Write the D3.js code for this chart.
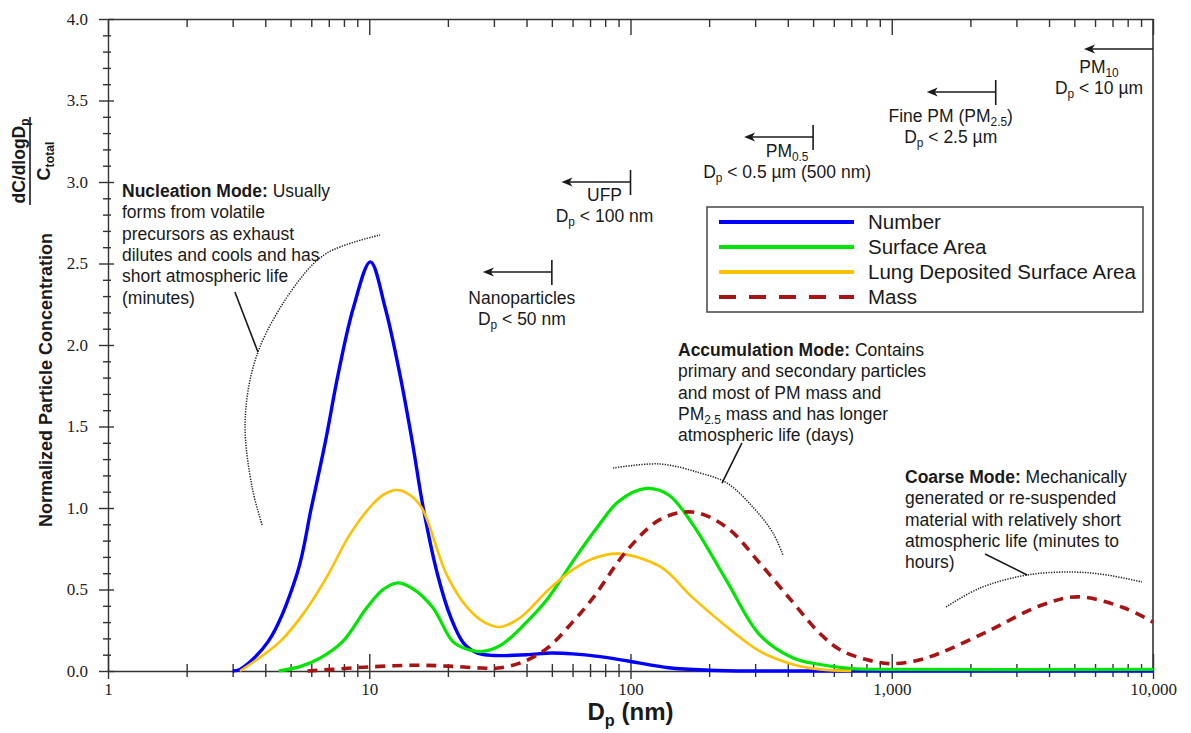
<!DOCTYPE html>
<html>
<head>
<meta charset="utf-8">
<script src="https://cdn.jsdelivr.net/npm/d3@7"></script>
<style>
  body { margin: 0; background: #fff; }
  svg text { font-family: "Liberation Sans", Arial, Helvetica, sans-serif; fill: #1a1a1a; }
  .axis .tick text { font-family: "Liberation Serif", "Times New Roman", serif; font-size: 17px; fill: #222; }
  .axis path, .axis line { stroke: #333; stroke-width: 1.4; }
</style>
</head>
<body>
<svg id="chart"></svg>
<script>
// ---- data (Dp in nm, normalized concentration) ----
const numberDp  = [3, 3.2, 4.1, 5.3, 6.0, 6.8, 7.6, 8.7, 10.1, 11.5, 13.1, 14.6, 16.1, 18.2, 20.5, 23, 26, 30, 40, 50, 60, 75, 99, 140, 200, 300, 1000, 10000];
const numberVal = [0, 0.01, 0.18, 0.6, 1.0, 1.41, 1.82, 2.23, 2.51, 2.23, 1.82, 1.41, 1.0, 0.6, 0.33, 0.17, 0.11, 0.095, 0.1, 0.11, 0.105, 0.09, 0.06, 0.02, 0.005, 0, 0, 0];

const surfaceDp  = [4.5, 5.5, 6.5, 7.9, 9.8, 11.3, 12.8, 14.5, 17.5, 20.9, 24, 27.2, 32, 40, 48, 60, 74.5, 90, 115, 140, 173, 234, 313, 419, 531, 700, 900, 10000];
const surfaceVal = [0, 0.03, 0.08, 0.18, 0.39, 0.5, 0.54, 0.51, 0.39, 0.18, 0.13, 0.12, 0.16, 0.3, 0.44, 0.67, 0.88, 1.04, 1.12, 1.08, 0.9, 0.55, 0.22, 0.08, 0.04, 0.015, 0.01, 0.01];

const ldsaDp  = [3.2, 4.55, 5.7, 6.95, 8.3, 10, 11.3, 12.8, 14.3, 15.9, 19.8, 23.7, 27.5, 31.7, 38, 47.9, 60, 72, 89.6, 130, 173, 234, 313, 419, 531, 700];
const ldsaVal = [0, 0.18, 0.37, 0.59, 0.82, 1.0, 1.08, 1.11, 1.08, 1.0, 0.59, 0.39, 0.3, 0.27, 0.33, 0.49, 0.62, 0.69, 0.72, 0.64, 0.45, 0.27, 0.12, 0.04, 0.01, 0];

const massDp  = [5.8, 8, 10, 14.7, 20, 27, 31, 38, 48, 60, 72, 97, 130, 173, 234, 313, 419, 531, 634, 800, 984, 1250, 1530, 2377, 3692, 5118, 7677, 10000];
const massVal = [0, 0.015, 0.025, 0.035, 0.03, 0.018, 0.018, 0.05, 0.14, 0.3, 0.45, 0.74, 0.93, 0.975, 0.88, 0.66, 0.42, 0.23, 0.13, 0.07, 0.045, 0.065, 0.11, 0.25, 0.40, 0.455, 0.39, 0.30];

const seriesNames = ["Number", "Surface Area", "Lung Deposited Surface Area", "Mass"];

const xTicks = [1, 10, 100, 1000, 10000];
const xTickLabels = ["1", "10", "100", "1,000", "10,000"];
const xMinorMult = [2, 3, 4, 5, 6, 7, 8, 9];
const yTicks = [0, 0.5, 1.0, 1.5, 2.0, 2.5, 3.0, 3.5, 4.0];
const yMinor = [0.1, 0.2, 0.3, 0.4, 0.6, 0.7, 0.8, 0.9, 1.1, 1.2, 1.3, 1.4, 1.6, 1.7, 1.8, 1.9, 2.1, 2.2, 2.3, 2.4, 2.6, 2.7, 2.8, 2.9, 3.1, 3.2, 3.3, 3.4, 3.6, 3.7, 3.8, 3.9];

// size cut-offs shown as arrows (nm) and the height they sit at
const cutoffDp  = [10000, 2500, 500, 100, 50];
const cutoffLvl = [3.816, 3.552, 3.276, 3.0, 2.448];

// mode brackets (dotted arcs) and their leader lines, in data units
const nucArcDp = [3.89, 3.56, 3.35, 3.75, 5.29, 6.89, 11.0];
const nucArcV  = [0.896, 1.129, 1.54, 1.957, 2.38, 2.564, 2.675];
const accArcDp = [85.7, 129.7, 184.5, 234, 294, 351, 383];
const accArcV  = [1.245, 1.27, 1.215, 1.153, 1.006, 0.847, 0.712];
const coaArcDp = [1614, 2178, 3296, 4943, 6668, 9075];
const coaArcV  = [0.393, 0.509, 0.589, 0.607, 0.589, 0.546];
const leaderDp = [[3.06, 3.75], [267, 224], [2275, 3296]];
const leaderV  = [[2.325, 1.957], [1.399, 1.153], [0.718, 0.589]];

// ---- layout ----
const width = 1191, height = 733;
const plot = { left: 108, right: 1153, top: 19, bottom: 671 };

const svg = d3.select("#chart").attr("width", width).attr("height", height);

const x = d3.scaleLog().domain([1, 10000]).range([plot.left, plot.right]);
const y = d3.scaleLinear().domain([0, 4]).range([plot.bottom, plot.top]);

const xMinor = xTicks.slice(0, 4).flatMap(d => xMinorMult.map(m => m * d));

// rich text: segments are strings or [string, "b" | "sub"]
const richText = (g, tx, ty, lines, size, lh, anchor, bold) => {
  lines.forEach((segs, i) => {
    const t = g.append("text")
      .attr("x", tx).attr("y", ty + i * lh)
      .attr("text-anchor", anchor || "start")
      .style("font-size", size + "px")
      .style("font-weight", bold ? "bold" : null);
    let shifted = false;
    segs.forEach(s => {
      const [str, kind] = typeof s === "string" ? [s, ""] : s;
      const ts = t.append("tspan").text(str);
      if (kind === "b") ts.style("font-weight", "bold");
      if (kind === "sub") {
        ts.style("font-size", (size * 0.68) + "px");
        if (!shifted) { ts.attr("dy", size * 0.24); shifted = true; }
      } else if (shifted) {
        ts.attr("dy", -size * 0.24); shifted = false;
      }
    });
  });
};

// ---- axes ----
const drawAxes = () => {
  // bottom: labels + ticks crossing the line
  svg.append("g").attr("class", "axis")
    .attr("transform", `translate(0,${plot.bottom})`)
    .call(d3.axisBottom(x).tickValues(xTicks).tickSize(8).tickSizeOuter(0).tickPadding(4)
      .tickFormat((d, i) => xTickLabels[i]));
  svg.append("g").attr("class", "axis")
    .attr("transform", `translate(0,${plot.bottom})`)
    .call(d3.axisTop(x).tickValues(xTicks).tickSize(17).tickFormat(""))
    .call(g => g.select(".domain").remove());
  svg.append("g").attr("class", "axis")
    .attr("transform", `translate(0,${plot.bottom})`)
    .call(d3.axisBottom(x).tickValues(xMinor).tickSize(6).tickFormat(""))
    .call(g => g.select(".domain").remove());
  svg.append("g").attr("class", "axis")
    .attr("transform", `translate(0,${plot.bottom})`)
    .call(d3.axisTop(x).tickValues(xMinor).tickSize(7).tickFormat(""))
    .call(g => g.select(".domain").remove());

  // top: inward ticks
  svg.append("g").attr("class", "axis")
    .attr("transform", `translate(0,${plot.top})`)
    .call(d3.axisBottom(x).tickValues(xTicks).tickSize(16).tickSizeOuter(0).tickFormat(""));
  svg.append("g").attr("class", "axis")
    .attr("transform", `translate(0,${plot.top})`)
    .call(d3.axisBottom(x).tickValues(xMinor).tickSize(8).tickFormat(""))
    .call(g => g.select(".domain").remove());

  // left: labels + crossing ticks
  svg.append("g").attr("class", "axis")
    .attr("transform", `translate(${plot.left},0)`)
    .call(d3.axisLeft(y).tickValues(yTicks).tickSize(9).tickSizeOuter(0).tickPadding(11)
      .tickFormat(d3.format(".1f")));
  svg.append("g").attr("class", "axis")
    .attr("transform", `translate(${plot.left},0)`)
    .call(d3.axisRight(y).tickValues(yTicks).tickSize(6).tickFormat(""))
    .call(g => g.select(".domain").remove());
  svg.append("g").attr("class", "axis")
    .attr("transform", `translate(${plot.left},0)`)
    .call(d3.axisLeft(y).tickValues(yMinor).tickSize(5).tickFormat(""))
    .call(g => g.select(".domain").remove());
  svg.append("g").attr("class", "axis")
    .attr("transform", `translate(${plot.left},0)`)
    .call(d3.axisRight(y).tickValues(yMinor).tickSize(3).tickFormat(""))
    .call(g => g.select(".domain").remove());

  // right frame
  svg.append("line")
    .attr("x1", plot.right).attr("x2", plot.right)
    .attr("y1", plot.top).attr("y2", plot.bottom)
    .attr("stroke", "#333").attr("stroke-width", 1.6);

  // x title
  richText(svg, x(100), 720, [["D", ["p", "sub"], " (nm)"]], 24, 0, "middle", true);

  // y title (rotated)
  const yt = svg.append("g").attr("transform", "translate(52,380) rotate(-90)");
  yt.append("text").attr("text-anchor", "middle")
    .style("font-size", "18px").style("font-weight", "bold")
    .text("Normalized Particle Concentration");

  const fr = svg.append("g").attr("transform", "translate(0,161) rotate(-90)");
  richText(fr, 0, 25, [["dC/dlogD", ["p", "sub"]]], 17.5, 0, "middle", true);
  fr.append("line").attr("x1", -44).attr("x2", 44).attr("y1", 30).attr("y2", 30)
    .attr("stroke", "#1a1a1a").attr("stroke-width", 1.6);
  richText(fr, 0, 50, [["C", ["total", "sub"]]], 18, 0, "middle", true);
};

// ---- curves ----
const drawCurves = () => {
  const series = [
    { dp: numberDp, val: numberVal, color: "#0000ff", w: 3.4, dash: null },
    { dp: surfaceDp, val: surfaceVal, color: "#00e600", w: 3.2, dash: null },
    { dp: ldsaDp, val: ldsaVal, color: "#ffc000", w: 2.6, dash: null },
    { dp: massDp, val: massVal, color: "#a81414", w: 3.6, dash: "10,7" },
  ];
  const line = d3.line()
    .x(d => x(d[0]))
    .y(d => y(Math.max(0, d[1])))
    .curve(d3.curveCatmullRom.alpha(0.5));

  svg.append("clipPath").attr("id", "clip").append("rect")
    .attr("x", plot.left).attr("y", plot.top)
    .attr("width", plot.right - plot.left).attr("height", plot.bottom - plot.top + 2);

  const g = svg.append("g").attr("clip-path", "url(#clip)");
  series.forEach(s => {
    g.append("path")
      .datum(s.dp.map((d, i) => [d, s.val[i]]))
      .attr("d", line)
      .attr("fill", "none")
      .attr("stroke", s.color)
      .attr("stroke-width", s.w)
      .attr("stroke-dasharray", s.dash)
      .attr("stroke-linejoin", "round");
  });
  return series;
};

// ---- legend ----
const drawLegend = (series) => {
  const lg = svg.append("g").attr("transform", "translate(707,207)");
  lg.append("rect").attr("width", 436).attr("height", 105)
    .attr("fill", "#fff").attr("stroke", "#444").attr("stroke-width", 1.5);
  series.forEach((s, i) => {
    const yy = 15 + i * 25;
    lg.append("line").attr("x1", 12).attr("x2", 147).attr("y1", yy).attr("y2", yy)
      .attr("stroke", s.color).attr("stroke-width", 4)
      .attr("stroke-dasharray", s.dash ? "17,13" : null);
    lg.append("text").attr("x", 161).attr("y", yy).attr("dy", "0.36em")
      .style("font-size", "20.5px").text(seriesNames[i]);
  });
};

// ---- size cut-off arrows ----
const drawCutoffs = () => {
  const labels = [
    { dx: -54, dy: [24, 45], lines: [["PM", ["10", "sub"]], ["D", ["p", "sub"], " < 10 µm"]], bar: false },
    { dx: -45, dy: [30, 51], lines: [["Fine PM (PM", ["2.5", "sub"], ")"], ["D", ["p", "sub"], " < 2.5 µm"]], bar: true },
    { dx: -26, dy: [20, 41], lines: [["PM", ["0.5", "sub"]], ["D", ["p", "sub"], " < 0.5 µm (500 nm)"]], bar: true },
    { dx: -26, dy: [19, 40], lines: [["UFP"], ["D", ["p", "sub"], " < 100 nm"]], bar: true },
    { dx: -30, dy: [32, 53], lines: [["Nanoparticles"], ["D", ["p", "sub"], " < 50 nm"]], bar: true },
  ];
  cutoffDp.forEach((dp, i) => {
    const cx = x(dp), cy = y(cutoffLvl[i]);
    const tip = cx - 69;
    const g = svg.append("g");
    g.append("line").attr("x1", cx).attr("x2", tip + 6).attr("y1", cy).attr("y2", cy)
      .attr("stroke", "#1a1a1a").attr("stroke-width", 1.6);
    g.append("path")
      .attr("d", `M${tip},${cy} L${tip + 11},${cy - 4.5} L${tip + 8},${cy} L${tip + 11},${cy + 4.5} Z`)
      .attr("fill", "#1a1a1a");
    if (labels[i].bar) {
      g.append("line").attr("x1", cx).attr("x2", cx).attr("y1", cy - 12).attr("y2", cy + 13)
        .attr("stroke", "#1a1a1a").attr("stroke-width", 1.6);
    }
    labels[i].lines.forEach((ln, j) => {
      richText(g, cx + labels[i].dx, cy + labels[i].dy[j], [ln], 17.5, 0, "middle");
    });
  });
};

// ---- mode notes ----
const drawModes = () => {
  const arc = d3.line().x(d => x(d[0])).y(d => y(d[1])).curve(d3.curveCatmullRom);
  [[nucArcDp, nucArcV], [accArcDp, accArcV], [coaArcDp, coaArcV]].forEach(([dps, vs]) => {
    svg.append("path")
      .datum(dps.map((d, i) => [d, vs[i]]))
      .attr("d", arc)
      .attr("fill", "none").attr("stroke", "#222")
      .attr("stroke-width", 1.5).attr("stroke-dasharray", "1.3,1.3");
  });
  leaderDp.forEach((dps, i) => {
    svg.append("line")
      .attr("x1", x(dps[0])).attr("y1", y(leaderV[i][0]))
      .attr("x2", x(dps[1])).attr("y2", y(leaderV[i][1]))
      .attr("stroke", "#1a1a1a").attr("stroke-width", 1.6);
  });

  richText(svg, 122, 197, [
    [["Nucleation Mode:", "b"], " Usually"],
    ["forms from volatile"],
    ["precursors as exhaust"],
    ["dilutes and cools and has"],
    ["short atmospheric life"],
    ["(minutes)"],
  ], 17.5, 21.3);

  richText(svg, 678, 356, [
    [["Accumulation Mode:", "b"], " Contains"],
    ["primary and secondary particles"],
    ["and most of PM mass and"],
    ["PM", ["2.5", "sub"], " mass and has longer"],
    ["atmospheric life (days)"],
  ], 17.5, 21.3);

  richText(svg, 905, 483, [
    [["Coarse Mode:", "b"], " Mechanically"],
    ["generated or re-suspended"],
    ["material with relatively short"],
    ["atmospheric life (minutes to"],
    ["hours)"],
  ], 17.5, 21.3);
};

drawAxes();
const series = drawCurves();
drawLegend(series);
drawCutoffs();
drawModes();
</script>
</body>
</html>
